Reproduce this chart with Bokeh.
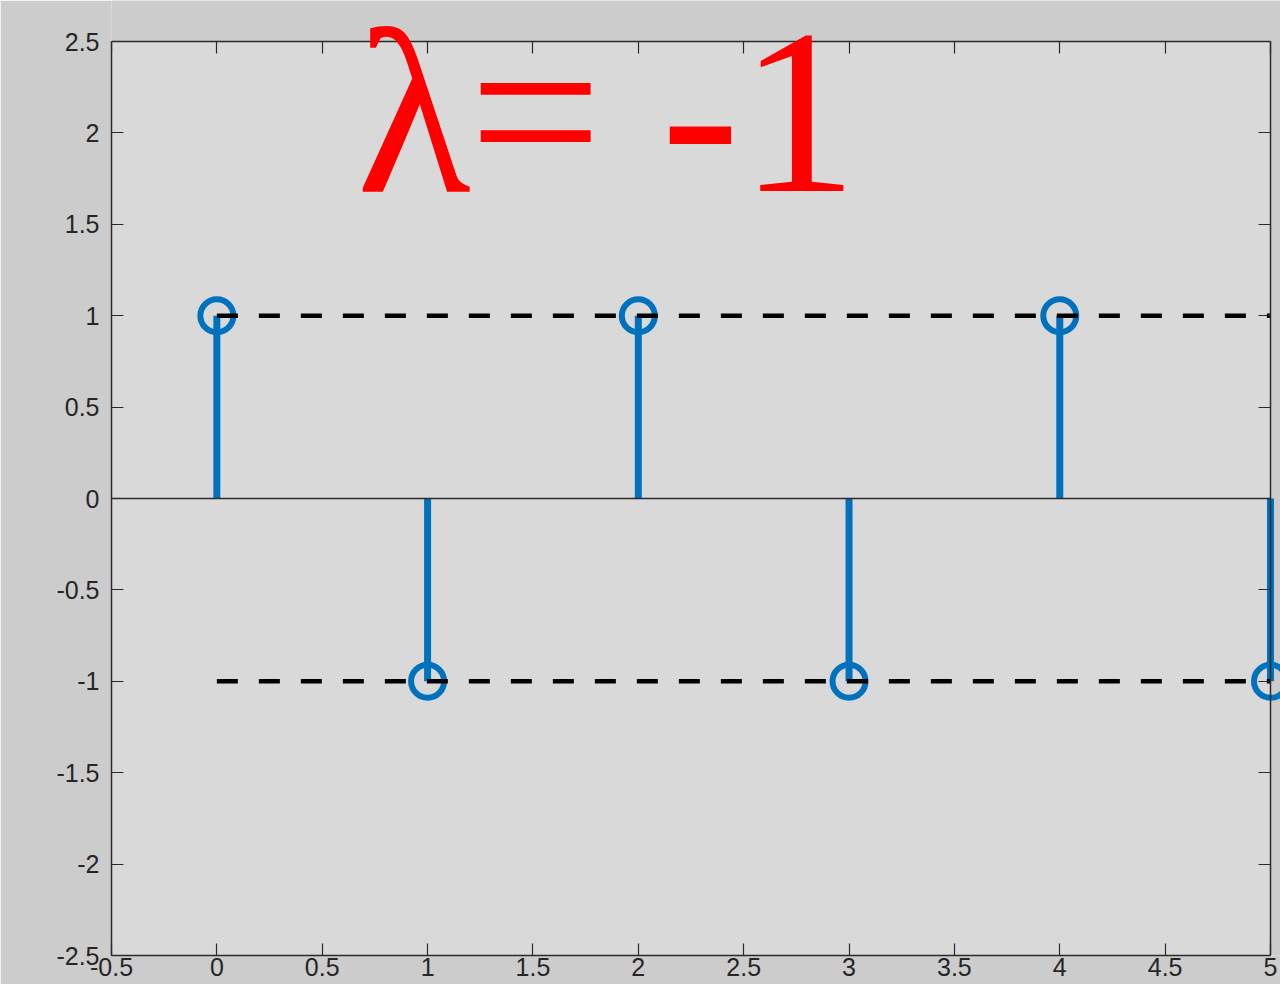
from bokeh.plotting import figure
from bokeh.models import (ColumnDataSource, LinearAxis, Range1d, FixedTicker, Label,
                          BoxAnnotation)
from bokeh.embed import file_html
from bokeh.resources import INLINE

# ---- data ----
n = [0, 1, 2, 3, 4, 5]
y_vals = [1, -1, 1, -1, 1, -1]
upper_x = [0, 5]
upper_y = [1, 1]
lower_x = [0, 5]
lower_y = [-1, -1]
base_x = [-0.5, 5]
base_y = [0, 0]
x_lim = (-0.5, 5)
y_lim = (-2.5, 2.5)
x_ticks = [-0.5, 0, 0.5, 1, 1.5, 2, 2.5, 3, 3.5, 4, 4.5, 5]
x_tick_labels = ["-0.5", "0", "0.5", "1", "1.5", "2", "2.5", "3", "3.5", "4", "4.5", "5"]
y_ticks = [-2.5, -2, -1.5, -1, -0.5, 0, 0.5, 1, 1.5, 2, 2.5]
y_tick_labels = ["-2.5", "-2", "-1.5", "-1", "-0.5", "0", "0.5", "1", "1.5", "2", "2.5"]
title_lambda = "λ"
title_rest = "= -1"

BG_OUT = "#cccccc"
BG_IN = "#d9d9d9"
AX = "#2b2b2b"
BLUE = "#0072bd"
W, H = 1280, 984

# axes box in page pixels: left 111, top 42, right 1269, bottom 955;
# the plotting frame is stretched to the top/right page edges so that marks and
# the big label may leave the box as in the original
BOX_L, BOX_T, BOX_R, BOX_B = 111, 42, 1269, 955
FRAME_T, FRAME_R = 1, 1279
ppx = (BOX_R - BOX_L) / (x_lim[1] - x_lim[0])
ppy = (BOX_B - BOX_T) / (y_lim[1] - y_lim[0])
x_end = x_lim[1] + (FRAME_R - BOX_R) / ppx
y_end = y_lim[1] + (BOX_T - FRAME_T) / ppy

p = figure(width=W, height=H, output_backend="svg", toolbar_location=None,
           x_range=Range1d(x_lim[0], x_end), y_range=Range1d(y_lim[0], y_end),
           x_axis_location=None, y_axis_location=None,
           min_border_left=BOX_L, min_border_top=0, min_border_right=0,
           min_border_bottom=H - BOX_B)
p.border_fill_color = BG_OUT
p.background_fill_color = BG_OUT
p.outline_line_color = None
p.xgrid.visible = False
p.ygrid.visible = False

p.add_layout(BoxAnnotation(left=x_lim[0], right=x_lim[1], bottom=y_lim[0], top=y_lim[1],
                           fill_color=BG_IN, fill_alpha=1.0, line_color=None,
                           level="underlay"))


def style_axis(ax, labels, size="25px"):
    ax.axis_line_color = AX
    ax.axis_line_width = 1.5
    ax.major_tick_line_color = AX
    ax.major_tick_line_width = 1.2
    ax.major_tick_in = 12
    ax.major_tick_out = 0
    ax.minor_tick_line_color = None
    ax.major_label_text_font = "Liberation Sans"
    ax.major_label_text_color = "#262626"
    ax.major_label_text_font_size = size
    ax.major_label_overrides = labels


bx = LinearAxis(ticker=FixedTicker(ticks=x_ticks), bounds=x_lim)
style_axis(bx, {t: s for t, s in zip(x_ticks, x_tick_labels)})
bx.major_label_standoff = 2
ly = LinearAxis(ticker=FixedTicker(ticks=y_ticks), bounds=y_lim)
style_axis(ly, {t: s for t, s in zip(y_ticks, y_tick_labels)})
ly.major_label_standoff = 12
tx = LinearAxis(ticker=FixedTicker(ticks=x_ticks), bounds=x_lim, fixed_location=y_lim[1])
style_axis(tx, {t: "" for t in x_ticks}, size="1px")
tx.major_label_standoff = 0
ry = LinearAxis(ticker=FixedTicker(ticks=y_ticks), bounds=y_lim, fixed_location=x_lim[1])
style_axis(ry, {t: "" for t in y_ticks}, size="1px")
ry.major_label_standoff = 0
p.add_layout(bx, "below")
p.add_layout(ly, "left")
p.add_layout(tx, "above")
p.add_layout(ry, "right")

src = ColumnDataSource(dict(x=n, y=y_vals, y0=[0] * len(n)))

# stems
p.segment(x0="x", y0="y0", x1="x", y1="y", source=src, line_color=BLUE, line_width=7)
# baseline
p.line(base_x, base_y, line_color=AX, line_width=1.5)
# markers
p.scatter(x="x", y="y", source=src, marker="circle", size=33, fill_color=None,
          line_color=BLUE, line_width=6)
# dashed envelopes
p.line(upper_x, upper_y, line_color="black", line_width=4.5, line_dash="21 21")
p.line(lower_x, lower_y, line_color="black", line_width=4.5, line_dash="21 21")

# big red annotation
TITLE_SIZE = "236px"
TITLE_Y = 2.117
p.add_layout(Label(x=0.663, y=TITLE_Y, text=title_lambda,
                   text_font="Liberation Serif", text_font_size=TITLE_SIZE,
                   text_color="#ff0000", text_baseline="alphabetic"))
p.add_layout(Label(x=1.196, y=TITLE_Y, text=title_rest,
                   text_font="Liberation Serif", text_font_size=TITLE_SIZE,
                   text_color="#ff0000", text_baseline="alphabetic"))

open("out.html", "w").write(file_html(p, INLINE))
